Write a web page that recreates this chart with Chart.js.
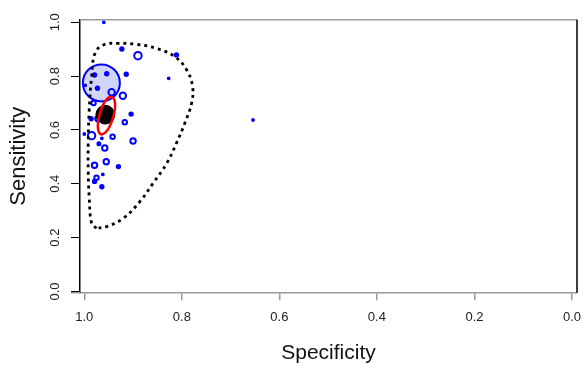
<!DOCTYPE html>
<html>
<head>
<meta charset="utf-8">
<script src="https://cdn.jsdelivr.net/npm/chart.js@4.4.0/dist/chart.umd.min.js"></script>
<style>
body { margin: 0; background: #fff; }
#wrap { width: 586px; height: 370px; }
</style>
</head>
<body>
<div id="wrap"><canvas id="sroc" width="586" height="370"></canvas></div>
<script>
// study estimates (specificity, sensitivity) and relative weights
var studySpec = [0.960, 0.923, 0.890, 0.811, 0.827, 0.914, 0.979, 0.954, 0.973, 0.944,
                 0.921, 0.981, 0.998, 0.904, 0.917, 0.986, 0.972, 0.985, 1.000, 0.964,
                 0.942, 0.900, 0.970, 0.958, 0.955, 0.930, 0.979, 0.975, 0.962, 0.979,
                 0.964, 0.654];
var studySens = [1.000, 0.901, 0.876, 0.879, 0.792, 0.807, 0.804, 0.809, 0.755, 0.740,
                 0.727, 0.700, 0.766, 0.659, 0.629, 0.642, 0.642, 0.579, 0.585, 0.569,
                 0.575, 0.559, 0.549, 0.533, 0.482, 0.464, 0.469, 0.423, 0.435, 0.409,
                 0.389, 0.637];
var studyWeight = [1.2, 2, 4, 2, 1.2, 2, 2, 2, 2, 3.5,
                   3.5, 2.5, 1.2, 2, 2.5, 2, 3, 4, 1.2, 1.2,
                   2.5, 3, 1.8, 3, 3, 2, 3, 2.5, 1.2, 2,
                   2, 1.2];

// the one large study
var largeSpec = [0.965];
var largeSens = [0.775];

// summary point
var summarySpec = [0.957];
var summarySens = [0.657];

// confidence region
var confSpec = [0.943, 0.938, 0.937, 0.941, 0.948, 0.957, 0.966, 0.971, 0.972, 0.968, 0.961, 0.952, 0.943];
var confSens = [0.724, 0.711, 0.682, 0.646, 0.613, 0.590, 0.584, 0.597, 0.625, 0.661, 0.695, 0.718, 0.724];

// prediction region
var predSpec = [0.975, 0.985, 0.990, 0.992, 0.992, 0.990, 0.985, 0.978, 0.961, 0.930, 0.893, 0.852,
                0.814, 0.790, 0.778, 0.780, 0.794, 0.811, 0.831, 0.859, 0.886, 0.920, 0.954, 0.975];
var predSens = [0.235, 0.253, 0.352, 0.451, 0.551, 0.674, 0.798, 0.885, 0.916, 0.922, 0.918, 0.903,
                0.872, 0.823, 0.761, 0.699, 0.625, 0.551, 0.476, 0.402, 0.334, 0.272, 0.241, 0.235];

var axisTicks = [0, 0.2, 0.4, 0.6, 0.8, 1.0];

var FONT = "'Liberation Sans', Arial, sans-serif";
var GREY = "#9a9a9a";

function toPoints(xs, ys) {
    var pts = [];
    for (var i = 0; i < xs.length; i++) {
        pts.push({ x: xs[i], y: ys[i] });
    }
    return pts;
}

function studyRadius(ctx) {
    return studyWeight[ctx.dataIndex] - 0.3;
}

var framePlugin = {
    id: "frame",
    beforeDatasetsDraw: function (chart) {
        var a = chart.chartArea, ctx = chart.ctx;
        ctx.save();
        ctx.lineWidth = 1.5;
        ctx.strokeStyle = GREY;
        ctx.beginPath();
        ctx.moveTo(a.left, a.top);
        ctx.lineTo(a.right, a.top);
        ctx.moveTo(a.left - 9, a.bottom);
        ctx.lineTo(a.left, a.bottom);
        ctx.stroke();
        ctx.strokeStyle = "#000";
        ctx.beginPath();
        ctx.moveTo(a.right, a.top);
        ctx.lineTo(a.right, a.bottom);
        ctx.stroke();
        ctx.restore();
    }
};

var ctx = document.getElementById("sroc").getContext("2d");
new Chart(ctx, {
    type: "scatter",
    data: {
        datasets: [
            {
                data: toPoints(confSpec, confSens),
                showLine: true,
                borderColor: "#ff0000",
                borderWidth: 2.5,
                tension: 0.4,
                pointRadius: 0,
                fill: false
            },
            {
                data: toPoints(summarySpec, summarySens),
                pointRadius: 9.8,
                backgroundColor: "#000",
                borderColor: "#000",
                borderWidth: 0
            },
            {
                data: toPoints(predSpec, predSens),
                showLine: true,
                borderColor: "#000",
                borderWidth: 2.8,
                borderDash: [3, 4],
                tension: 0.4,
                pointRadius: 0,
                fill: false
            },
            {
                data: toPoints(studySpec, studySens),
                pointRadius: studyRadius,
                borderColor: "#0000ff",
                borderWidth: 2,
                backgroundColor: function (c) {
                    return studyWeight[c.dataIndex] <= 2 ? "#0000ff" : "rgba(0,0,0,0)";
                }
            },
            {
                data: toPoints(largeSpec, largeSens),
                pointRadius: 18.5,
                borderColor: "#0000ff",
                borderWidth: 2,
                backgroundColor: "#d2d4f6"
            }
        ]
    },
    options: {
        responsive: false,
        animation: false,
        events: [],
        layout: { autoPadding: false, padding: { top: 19.7, right: 9, left: 0, bottom: 0 } },
        plugins: { legend: { display: false }, tooltip: { enabled: false } },
        scales: {
            x: {
                type: "linear",
                reverse: true,
                min: -0.0103,
                max: 1.0088,
                afterBuildTicks: function (s) {
                    s.ticks = axisTicks.map(function (v) { return { value: v }; });
                },
                afterFit: function (s) { s.height = 77.3; },
                ticks: {
                    callback: function (v) { return Number(v).toFixed(1); },
                    color: "#222",
                    font: { family: FONT, size: 13 },
                    padding: 9,
                    maxRotation: 0,
                    autoSkip: false
                },
                grid: { drawOnChartArea: false, drawTicks: true, tickLength: 7.5, color: GREY, lineWidth: 1.5 },
                border: { display: true, color: GREY, width: 1.5 },
                title: {
                    display: true,
                    text: "Specificity",
                    color: "#111",
                    font: { family: FONT, size: 21 },
                    padding: { top: 0, bottom: 4 }
                }
            },
            y: {
                type: "linear",
                min: -0.0045,
                max: 1.0097,
                afterBuildTicks: function (s) {
                    s.ticks = axisTicks.map(function (v) { return { value: v }; });
                },
                afterFit: function (s) { s.width = 80; },
                ticks: {
                    callback: function (v) { return Number(v).toFixed(1); },
                    color: "#222",
                    font: { family: FONT, size: 13 },
                    padding: 7,
                    minRotation: 90,
                    maxRotation: 90,
                    crossAlign: "center"
                },
                grid: { drawOnChartArea: false, drawTicks: true, tickLength: 9, color: "#000", lineWidth: 1 },
                border: { display: true, color: "#000", width: 1.5 },
                title: {
                    display: true,
                    text: "Sensitivity",
                    color: "#111",
                    font: { family: FONT, size: 22 },
                    padding: { top: 6, bottom: 0 }
                }
            }
        }
    },
    plugins: [framePlugin]
});
</script>
</body>
</html>
